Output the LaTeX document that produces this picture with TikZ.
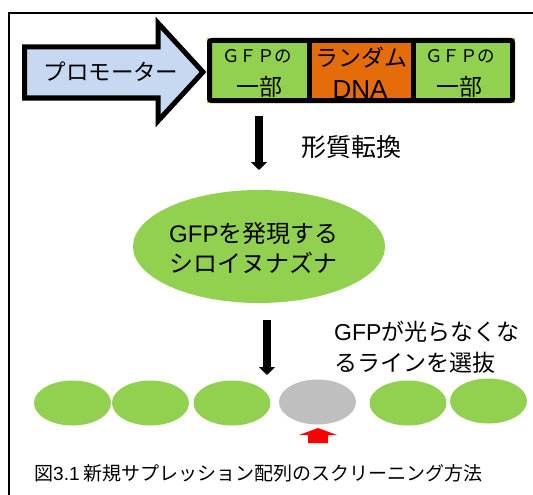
\documentclass[tikz,border=0pt]{standalone}
\usepackage{fontspec}
\setmainfont{Noto Sans CJK JP}
\newfontfamily\latn{Liberation Sans}
\usetikzlibrary{arrows.meta,shapes.geometric}
\definecolor{gfpgreen}{HTML}{92D050}
\definecolor{dnaorange}{HTML}{E46C0A}
\definecolor{promblue}{HTML}{C6D9F1}
\definecolor{offgray}{HTML}{BFBFBF}
\definecolor{markred}{HTML}{FF0000}
\begin{document}
\begin{tikzpicture}[x=1pt,y=-1pt,
  txt/.style={inner sep=0pt,text=black},
  blackarrow/.style={line width=7.5pt,-{Triangle[width=16pt,length=8pt]}},
  plant/.style={ellipse,inner sep=0pt,minimum width=77pt,minimum height=45pt,fill=gfpgreen},
  cellfill/.style={inner sep=0pt,minimum height=65pt},
  framebox/.style={line width=1.5pt,black}]
\useasboundingbox (0,0) rectangle (533,495);
% frame
\draw[framebox] (533,13) -- (9,13) -- (9,495);
% promoter arrow
\draw[line width=5pt,fill=promblue,line join=miter]
  (24.5,47) -- (158,47) -- (158,23) -- (203,72) -- (158,121) -- (158,98) -- (24.5,98) -- cycle;
\node[txt,font=\fontsize{22.5}{27}\selectfont] (prom) at (111,72) {プロモーター};
% construct cells
\node[cellfill,fill=gfpgreen,minimum width=102pt] (c1) at (258,70.5) {};
\node[cellfill,fill=dnaorange,minimum width=104pt] (c2) at (361,70.5) {};
\node[cellfill,fill=gfpgreen,minimum width=102pt] (c3) at (464,70.5) {};
\draw[line width=5pt,rounded corners=2pt] (209.5,40.5) rectangle (512.5,100.5);
\draw[line width=5pt] (c1.north east) -- (c1.south east);
\draw[line width=5pt] (c2.north east) -- (c2.south east);
\node[txt,font=\fontsize{17.5}{20}\selectfont] (t1a) at (257,56) {ＧＦＰの};
\node[txt,font=\fontsize{23}{27}\selectfont] (t1b) at (259,87) {一部};
\node[txt,font=\fontsize{23}{27}\selectfont] (t2a) at (361,58) {ランダム};
\node[txt,font=\fontsize{26}{27}\selectfont\latn] (t2b) at (360,90) {DNA};
\node[txt,font=\fontsize{17.5}{20}\selectfont] (t3a) at (460,56) {ＧＦＰの};
\node[txt,font=\fontsize{23}{27}\selectfont] (t3b) at (459,87) {一部};
% arrow 1
\coordinate (a1s) at (259,116);
\coordinate (a1e) at (259,170);
\draw[blackarrow] (a1s) -- (a1e);
\node[txt,font=\fontsize{25}{30}\selectfont] (trans) at (351,147) {形質転換};
% big ellipse
\node[ellipse,inner sep=0pt,minimum width=252pt,minimum height=113pt,fill=gfpgreen] (gfp) at (259,246.5) {};
\node[txt,anchor=west,align=left,font=\fontsize{24}{30}\selectfont] (gfptxt) at (169,248) {{\latn GFP}を発現する\\シロイヌナズナ};
% arrow 2
\coordinate (a2s) at (267,320);
\coordinate (a2e) at (267,375);
\draw[blackarrow] (a2s) -- (a2e);
\node[txt,anchor=west,align=left,font=\fontsize{23}{31}\selectfont] (sel) at (334,347.5) {{\latn GFP}が光らなくな\\るラインを選抜};
% plants
\node[plant] (p1) at (72.5,403) {};
\node[plant] (p2) at (150.5,403) {};
\node[plant] (p3) at (232,403) {};
\node[plant,fill=offgray] (p4) at (317.5,402) {};
\node[plant] (p5) at (408,403) {};
\node[plant] (p6) at (488.5,401) {};
% red marker arrow
\fill[markred] (308,443) -- (308,435) -- (299,435) -- (318,428) -- (337,435) -- (328,435) -- (328,443) -- cycle;
% caption
\node[txt,anchor=west,font=\fontsize{19}{22}\selectfont] (cap) at (34,473) {図{\latn 3.1} 新規サプレッション配列のスクリーニング方法};
\end{tikzpicture}
\end{document}
